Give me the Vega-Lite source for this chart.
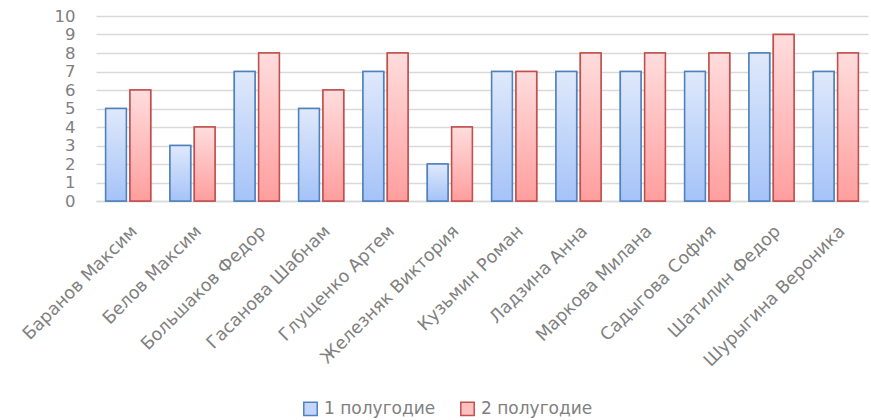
{
  "$schema": "https://vega.github.io/schema/vega-lite/v6.json",
  "width": 772,
  "height": 185,
  "autosize": {"type": "none"},
  "padding": {"left": 96, "top": 16, "right": 3, "bottom": 219},
  "background": "white",
  "config": {
    "view": {"stroke": null},
    "font": "DejaVu Sans",
    "axis": {"labelFont": "DejaVu Sans", "labelColor": "#808080"},
    "legend": {"labelFont": "DejaVu Sans", "labelColor": "#808080"}
  },
  "data": {
    "values": [
      {"name": "Баранов Максим", "series": "1 полугодие", "value": 5},
      {"name": "Баранов Максим", "series": "2 полугодие", "value": 6},
      {"name": "Белов Максим", "series": "1 полугодие", "value": 3},
      {"name": "Белов Максим", "series": "2 полугодие", "value": 4},
      {"name": "Большаков Федор", "series": "1 полугодие", "value": 7},
      {"name": "Большаков Федор", "series": "2 полугодие", "value": 8},
      {"name": "Гасанова Шабнам", "series": "1 полугодие", "value": 5},
      {"name": "Гасанова Шабнам", "series": "2 полугодие", "value": 6},
      {"name": "Глущенко Артем", "series": "1 полугодие", "value": 7},
      {"name": "Глущенко Артем", "series": "2 полугодие", "value": 8},
      {"name": "Железняк Виктория", "series": "1 полугодие", "value": 2},
      {"name": "Железняк Виктория", "series": "2 полугодие", "value": 4},
      {"name": "Кузьмин Роман", "series": "1 полугодие", "value": 7},
      {"name": "Кузьмин Роман", "series": "2 полугодие", "value": 7},
      {"name": "Ладзина Анна", "series": "1 полугодие", "value": 7},
      {"name": "Ладзина Анна", "series": "2 полугодие", "value": 8},
      {"name": "Маркова Милана", "series": "1 полугодие", "value": 7},
      {"name": "Маркова Милана", "series": "2 полугодие", "value": 8},
      {"name": "Садыгова София", "series": "1 полугодие", "value": 7},
      {"name": "Садыгова София", "series": "2 полугодие", "value": 8},
      {"name": "Шатилин Федор", "series": "1 полугодие", "value": 8},
      {"name": "Шатилин Федор", "series": "2 полугодие", "value": 9},
      {"name": "Шурыгина Вероника", "series": "1 полугодие", "value": 7},
      {"name": "Шурыгина Вероника", "series": "2 полугодие", "value": 8}
    ]
  },
  "encoding": {
    "x": {
      "field": "name",
      "type": "nominal",
      "sort": null,
      "scale": {"paddingInner": 0.3, "paddingOuter": 0.15},
      "axis": {
        "title": null,
        "labelAngle": -45,
        "labelAlign": "right",
        "labelBaseline": "top",
        "labelFontSize": 17.5,
        "labelPadding": 21,
        "labelDx": -1,
        "ticks": false,
        "domainColor": "#d9d9d9",
        "domainWidth": 1.5,
        "labelLimit": 400,
        "labelOverlap": false
      }
    },
    "xOffset": {
      "field": "series",
      "type": "nominal",
      "scale": {"domain": ["1 полугодие", "2 полугодие"], "paddingInner": 0.15, "paddingOuter": 0}
    },
    "y": {
      "field": "value",
      "type": "quantitative",
      "scale": {"domain": [0, 10], "nice": false},
      "axis": {
        "title": null,
        "values": [0, 1, 2, 3, 4, 5, 6, 7, 8, 9, 10],
        "labelFontSize": 16.5,
        "labelPadding": 21,
        "labelOverlap": false,
        "labelBaseline": "middle",
        "ticks": false,
        "domain": false,
        "gridColor": "#d9d9d9",
        "gridWidth": 1.5
      }
    }
  },
  "layer": [
    {
      "mark": {"type": "bar", "strokeWidth": 1.5},
      "encoding": {
        "fill": {
          "field": "series",
          "type": "nominal",
          "scale": {"domain": ["1 полугодие", "2 полугодие"], "range": ["#c3d6f9", "#ffc0c0"]},
          "legend": {
            "title": null,
            "orient": "none",
            "direction": "horizontal",
            "legendX": 206,
            "legendY": 384,
            "symbolType": "square",
            "symbolSize": 180,
            "symbolStrokeWidth": 1.5,
            "labelFontSize": 17,
            "columnPadding": 21,
            "labelOffset": 5
          }
        },
        "stroke": {
          "field": "series",
          "type": "nominal",
          "scale": {"domain": ["1 полугодие", "2 полугодие"], "range": ["#4f81bd", "#c0504d"]},
          "legend": {
            "title": null,
            "orient": "none",
            "direction": "horizontal",
            "legendX": 206,
            "legendY": 384,
            "symbolType": "square",
            "symbolSize": 180,
            "symbolStrokeWidth": 1.5,
            "labelFontSize": 17,
            "columnPadding": 21,
            "labelOffset": 5
          }
        }
      }
    },
    {
      "transform": [{"filter": "datum.series === '1 полугодие'"}],
      "mark": {
        "type": "bar",
        "strokeWidth": 1.5,
        "stroke": "#4f81bd",
        "fill": {
          "gradient": "linear",
          "x1": 0, "y1": 0, "x2": 0, "y2": 1,
          "stops": [
            {"offset": 0, "color": "#dfe9fb"},
            {"offset": 1, "color": "#a5c3f8"}
          ]
        }
      }
    },
    {
      "transform": [{"filter": "datum.series === '2 полугодие'"}],
      "mark": {
        "type": "bar",
        "strokeWidth": 1.5,
        "stroke": "#c0504d",
        "fill": {
          "gradient": "linear",
          "x1": 0, "y1": 0, "x2": 0, "y2": 1,
          "stops": [
            {"offset": 0, "color": "#ffdddd"},
            {"offset": 1, "color": "#ff9e9e"}
          ]
        }
      }
    }
  ]
}
